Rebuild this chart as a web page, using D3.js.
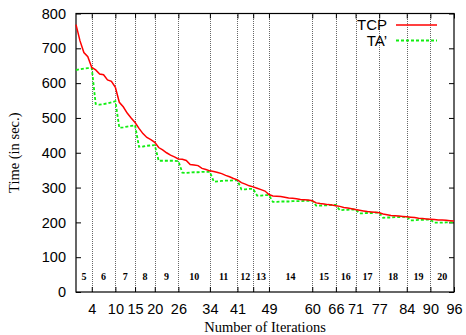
<!DOCTYPE html>
<html><head><meta charset="utf-8">
<script src="https://cdn.jsdelivr.net/npm/d3@7"></script>
<style>body{margin:0;background:#fff}svg{display:block}</style>
</head><body>
<script>
// Iterations (x) and times (y)
const tcpIter = d3.range(0, 97);
const tcpTime = [768,722,688,676,645,638,626,624,609,605,588,545,532,514,500,487,470,455,444,438,
  430,415,408,400,393,388,382,381,378,366,365,363,355,352,348,346,343,340,335,331,
  326,322,314,310,305,302,298,294,290,280,276,275,274,272,270,269,268,266,265,264,
  262,256,254,253,251,250,248,246,243,241,239,237,235,233,231,230,229,228,224,222,
  220,219,218,217,216,215,214,212,211,210,209,208,207,207,206,205,204];
const taIter = d3.range(0, 97);
const taTime = [637,640,642,643,643,540,538,540,542,545,548,472,473,475,477,479,417,418,420,421,
  422,377,377,377,377,377,376,343,342,343,344,344,345,345,345,317,318,319,320,320,
  321,321,295,295,296,296,277,277,278,278,259,259,260,260,260,261,261,261,262,262,
  262,248,248,249,249,250,250,235,236,236,237,237,226,226,227,227,228,228,213,214,
  214,215,215,216,216,206,206,207,207,208,208,199,199,199,200,200,200];
const boundaries = [4,10,15,20,26,34,41,45,49,60,66,71,77,84,90,96];
const xTickLabels = ["4","10","15","20","26","34","41","","49","60","66","71","77","84","90","96"];
const regionLabels = ["5","6","7","8","9","10","11","12","13","14","15","16","17","18","19","20"];
const yTicks = [0,100,200,300,400,500,600,700,800];
const seriesNames = ["TCP","TA\u2019"];

const W = 466, H = 335;
const m = {l:76, r:12, t:13.5, b:43};
const svg = d3.select("body").append("svg").attr("width", W).attr("height", H);
const x = d3.scaleLinear().domain([0,96]).range([m.l, W - m.r]);
const y = d3.scaleLinear().domain([0,800]).range([H - m.b, m.t]);
const sans = "'Liberation Sans', Arial, Helvetica, sans-serif";
const serif = "'Liberation Serif', 'Times New Roman', serif";

// vertical dotted separators
svg.append("g").selectAll("line").data(boundaries.slice(0,-1)).join("line")
  .attr("x1", d => Math.round(x(d)) + 0.5).attr("x2", d => Math.round(x(d)) + 0.5)
  .attr("y1", y(0)).attr("y2", y(800))
  .attr("stroke", "#666").attr("stroke-width", 1).attr("stroke-dasharray", "1,1");

// region labels
const regionStarts = [0].concat(boundaries.slice(0,-1));
svg.append("g").selectAll("text").data(regionLabels).join("text")
  .attr("x", (d,i) => x((regionStarts[i] + boundaries[i]) / 2))
  .attr("y", 279.5)
  .attr("text-anchor", "middle")
  .style("font-family", serif).style("font-weight", "bold").style("font-size", "10px")
  .text(d => d);

// axes
const xAxis = svg.append("g").attr("transform", `translate(0,${y(0)})`)
  .call(d3.axisBottom(x).tickValues(boundaries).tickFormat((d,i) => xTickLabels[i]).tickSizeInner(-5).tickSizeOuter(0).tickPadding(12));
const xAxisTop = svg.append("g").attr("transform", `translate(0,${y(800)})`)
  .call(d3.axisTop(x).tickValues(boundaries).tickFormat("").tickSizeInner(-5).tickSizeOuter(0));
const yAxis = svg.append("g").attr("transform", `translate(${x(0)},0)`)
  .call(d3.axisLeft(y).tickValues(yTicks).tickSizeInner(-5).tickSizeOuter(0).tickPadding(10));
const yAxisR = svg.append("g").attr("transform", `translate(${x(96)},0)`)
  .call(d3.axisRight(y).tickValues(yTicks).tickFormat("").tickSizeInner(-5).tickSizeOuter(0));
[xAxis, xAxisTop, yAxis, yAxisR].forEach(g => {
  g.select(".domain").remove();
  g.selectAll("line").attr("stroke", "#000");
  g.selectAll("text").style("font-family", sans).style("font-size", "14.5px").attr("fill", "#000");
});
svg.append("rect").attr("x", x(0)).attr("y", y(800)).attr("width", x(96) - x(0)).attr("height", y(0) - y(800))
  .attr("fill", "none").attr("stroke", "#000").attr("stroke-width", 1.2);

// series
const line = d3.line().x(d => x(d[0])).y(d => y(d[1]));
svg.append("path").datum(taIter.map((d,i) => [d, taTime[i]]))
  .attr("d", line).attr("fill", "none").attr("stroke", "#11ee11").attr("stroke-width", 1.8).attr("stroke-dasharray", "3,2");
svg.append("path").datum(tcpIter.map((d,i) => [d, tcpTime[i]]))
  .attr("d", line).attr("fill", "none").attr("stroke", "#ff0000").attr("stroke-width", 1.5);

// legend
const lg = svg.append("g");
const legY = [25, 40.5];
const colors = ["#ff0000", "#11ee11"];
seriesNames.forEach((n, i) => {
  lg.append("text").attr("x", 387).attr("y", legY[i] + 5.3).attr("text-anchor", "end")
    .style("font-family", sans).style("font-size", "15px").text(n);
  lg.append("line").attr("x1", 396).attr("x2", 437).attr("y1", legY[i]).attr("y2", legY[i])
    .attr("stroke", colors[i]).attr("stroke-width", i ? 1.8 : 1.5).attr("stroke-dasharray", i ? "3,2" : null);
});

// axis titles
svg.append("text").attr("x", (x(0) + x(96)) / 2).attr("y", 332).attr("text-anchor", "middle")
  .style("font-family", serif).style("font-size", "14.5px").text("Number of Iterations");
svg.append("text").attr("transform", `translate(19,${(y(0)+y(800))/2}) rotate(-90)`).attr("text-anchor", "middle")
  .style("font-family", serif).style("font-size", "14.5px").text("Time (in sec.)");
</script>
</body></html>
